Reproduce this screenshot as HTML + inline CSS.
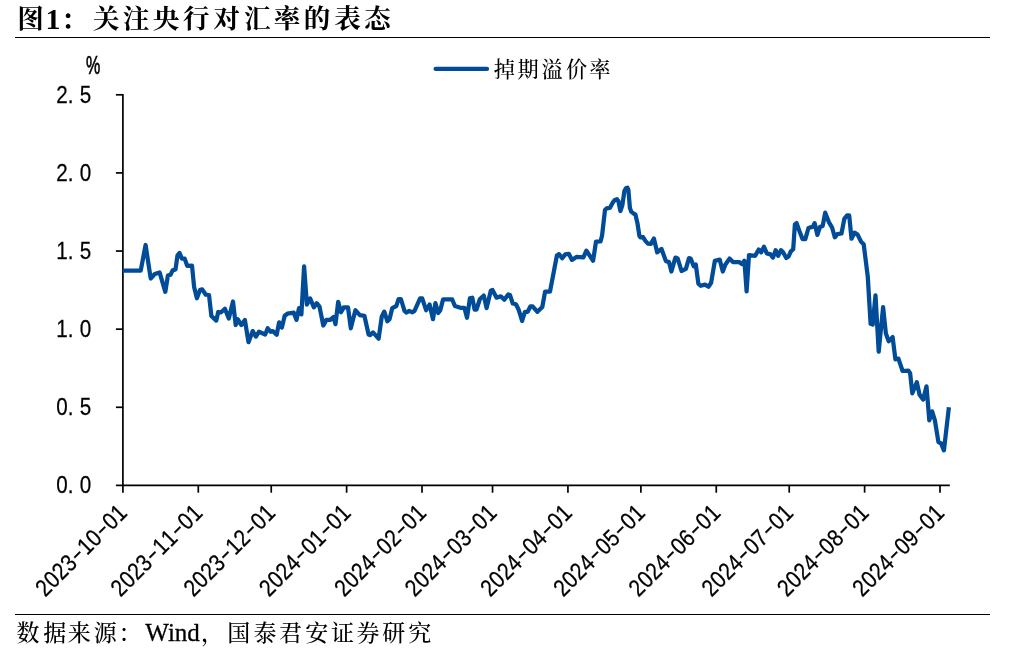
<!DOCTYPE html>
<html lang="zh-CN">
<head>
<meta charset="utf-8">
<title>图1：关注央行对汇率的表态</title>
<style>
html,body{margin:0;padding:0;background:#fff;}
body{width:1010px;height:661px;overflow:hidden;position:relative;}
svg{position:absolute;left:0;top:0;display:block;}
.title{font-family:"Liberation Serif","Noto Serif CJK SC",serif;font-weight:bold;font-size:26.6px;fill:#000;}
.title .t1{font-size:30px;}
.src{font-family:"Liberation Serif","Noto Serif CJK SC",serif;font-size:23.0px;font-weight:500;fill:#000;}
.src .lat{font-size:25px;font-weight:400;stroke:#000;stroke-width:0.3;}
.leg{font-family:"Liberation Serif","Noto Serif CJK SC",serif;font-size:21.2px;font-weight:500;fill:#000;}
.num{font-family:"Liberation Sans","Noto Sans CJK SC",sans-serif;font-size:24.0px;fill:#000;stroke:#000;stroke-width:0.25;}
.pct{font-size:25.8px;stroke-width:0.7;}
.hy{font-family:"IPAGothic","Liberation Sans",sans-serif;font-size:23.6px;}
.series.data{stroke-linecap:butt;}
.ax{stroke:#000;stroke-width:1.7;fill:none;}
.rule{stroke:#000;stroke-width:1;}
.series{fill:none;stroke:#004c99;stroke-width:4.25;stroke-linejoin:round;stroke-linecap:round;}
</style>
</head>
<body>
<svg width="1010" height="661" viewBox="0 0 1010 661">
<rect x="0" y="0" width="1010" height="661" fill="#ffffff"/>
<text class="title" y="27.6"><tspan x="17.3">图</tspan><tspan class="t1" x="45.4" dy="1.4">1</tspan><tspan x="61.0">：</tspan><tspan x="93.1 122.8 152.8 183.0 213.3 243.9 273.7 303.7 334.2 364.2" dy="-1.4">关注央行对汇率的表态</tspan></text>
<line class="rule" x1="15" y1="37.5" x2="990" y2="37.5"/>
<line class="rule" x1="15" y1="614.5" x2="990" y2="614.5"/>
<text class="src" y="640.5"><tspan x="16.4 43.2 67.7 93.8 118.5">数据来源：</tspan><tspan class="lat" x="145.3">Wind</tspan><tspan x="201.0 227.3 253.5 279.1 305.3 330.9 356.5 382.2 408.3">，国泰君安证券研究</tspan></text>
<line class="series" x1="435.6" y1="68.9" x2="487" y2="68.9"/>
<text class="leg" x="493.7 517.6 541.5 566.0 589.3" y="77.2">掉期溢价率</text>
<text class="num pct" transform="translate(86.0 73.9) scale(0.62 1)" x="0" y="0">%</text>
<path class="ax" d="M122.9 93.95V486.25"/>
<path class="ax" d="M122.05000000000001 485.4H949.8"/>
<path class="ax" d="M115.9 485.40H122.9"/>
<text class="num" transform="translate(56.0 493.10) scale(0.86 1)" x="0.19 13.72 27.63" y="0">0.0</text>
<path class="ax" d="M115.9 407.28H122.9"/>
<text class="num" transform="translate(56.0 414.98) scale(0.86 1)" x="0.19 13.72 27.63" y="0">0.5</text>
<path class="ax" d="M115.9 329.16H122.9"/>
<text class="num" transform="translate(56.0 336.86) scale(0.86 1)" x="0.19 13.72 27.63" y="0">1.0</text>
<path class="ax" d="M115.9 251.04H122.9"/>
<text class="num" transform="translate(56.0 258.74) scale(0.86 1)" x="0.19 13.72 27.63" y="0">1.5</text>
<path class="ax" d="M115.9 172.92H122.9"/>
<text class="num" transform="translate(56.0 180.62) scale(0.86 1)" x="0.19 13.72 27.63" y="0">2.0</text>
<path class="ax" d="M115.9 94.80H122.9"/>
<text class="num" transform="translate(56.0 102.50) scale(0.86 1)" x="0.19 13.72 27.63" y="0">2.5</text>
<path class="ax" d="M122.90 485.4V492.7"/>
<text class="num" transform="translate(128.50 514.4) rotate(-45) scale(0.86 1)" y="0"><tspan x="-137.02 -123.30 -109.58 -95.86">2023</tspan><tspan class="hy" x="-81.37" dy="1.2">-</tspan><tspan x="-68.42 -54.70" dy="-1.2">10</tspan><tspan class="hy" x="-40.20" dy="1.2">-</tspan><tspan x="-27.25 -13.53" dy="-1.2">01</tspan></text>
<path class="ax" d="M198.29 485.4V492.7"/>
<text class="num" transform="translate(203.89 514.4) rotate(-45) scale(0.86 1)" y="0"><tspan x="-137.02 -123.30 -109.58 -95.86">2023</tspan><tspan class="hy" x="-81.37" dy="1.2">-</tspan><tspan x="-68.42 -54.70" dy="-1.2">11</tspan><tspan class="hy" x="-40.20" dy="1.2">-</tspan><tspan x="-27.25 -13.53" dy="-1.2">01</tspan></text>
<path class="ax" d="M271.24 485.4V492.7"/>
<text class="num" transform="translate(276.84 514.4) rotate(-45) scale(0.86 1)" y="0"><tspan x="-137.02 -123.30 -109.58 -95.86">2023</tspan><tspan class="hy" x="-81.37" dy="1.2">-</tspan><tspan x="-68.42 -54.70" dy="-1.2">12</tspan><tspan class="hy" x="-40.20" dy="1.2">-</tspan><tspan x="-27.25 -13.53" dy="-1.2">01</tspan></text>
<path class="ax" d="M346.63 485.4V492.7"/>
<text class="num" transform="translate(352.23 514.4) rotate(-45) scale(0.86 1)" y="0"><tspan x="-137.02 -123.30 -109.58 -95.86">2024</tspan><tspan class="hy" x="-81.37" dy="1.2">-</tspan><tspan x="-68.42 -54.70" dy="-1.2">01</tspan><tspan class="hy" x="-40.20" dy="1.2">-</tspan><tspan x="-27.25 -13.53" dy="-1.2">01</tspan></text>
<path class="ax" d="M422.02 485.4V492.7"/>
<text class="num" transform="translate(427.62 514.4) rotate(-45) scale(0.86 1)" y="0"><tspan x="-137.02 -123.30 -109.58 -95.86">2024</tspan><tspan class="hy" x="-81.37" dy="1.2">-</tspan><tspan x="-68.42 -54.70" dy="-1.2">02</tspan><tspan class="hy" x="-40.20" dy="1.2">-</tspan><tspan x="-27.25 -13.53" dy="-1.2">01</tspan></text>
<path class="ax" d="M492.54 485.4V492.7"/>
<text class="num" transform="translate(498.14 514.4) rotate(-45) scale(0.86 1)" y="0"><tspan x="-137.02 -123.30 -109.58 -95.86">2024</tspan><tspan class="hy" x="-81.37" dy="1.2">-</tspan><tspan x="-68.42 -54.70" dy="-1.2">03</tspan><tspan class="hy" x="-40.20" dy="1.2">-</tspan><tspan x="-27.25 -13.53" dy="-1.2">01</tspan></text>
<path class="ax" d="M567.93 485.4V492.7"/>
<text class="num" transform="translate(573.53 514.4) rotate(-45) scale(0.86 1)" y="0"><tspan x="-137.02 -123.30 -109.58 -95.86">2024</tspan><tspan class="hy" x="-81.37" dy="1.2">-</tspan><tspan x="-68.42 -54.70" dy="-1.2">04</tspan><tspan class="hy" x="-40.20" dy="1.2">-</tspan><tspan x="-27.25 -13.53" dy="-1.2">01</tspan></text>
<path class="ax" d="M640.88 485.4V492.7"/>
<text class="num" transform="translate(646.48 514.4) rotate(-45) scale(0.86 1)" y="0"><tspan x="-137.02 -123.30 -109.58 -95.86">2024</tspan><tspan class="hy" x="-81.37" dy="1.2">-</tspan><tspan x="-68.42 -54.70" dy="-1.2">05</tspan><tspan class="hy" x="-40.20" dy="1.2">-</tspan><tspan x="-27.25 -13.53" dy="-1.2">01</tspan></text>
<path class="ax" d="M716.27 485.4V492.7"/>
<text class="num" transform="translate(721.87 514.4) rotate(-45) scale(0.86 1)" y="0"><tspan x="-137.02 -123.30 -109.58 -95.86">2024</tspan><tspan class="hy" x="-81.37" dy="1.2">-</tspan><tspan x="-68.42 -54.70" dy="-1.2">06</tspan><tspan class="hy" x="-40.20" dy="1.2">-</tspan><tspan x="-27.25 -13.53" dy="-1.2">01</tspan></text>
<path class="ax" d="M789.23 485.4V492.7"/>
<text class="num" transform="translate(794.83 514.4) rotate(-45) scale(0.86 1)" y="0"><tspan x="-137.02 -123.30 -109.58 -95.86">2024</tspan><tspan class="hy" x="-81.37" dy="1.2">-</tspan><tspan x="-68.42 -54.70" dy="-1.2">07</tspan><tspan class="hy" x="-40.20" dy="1.2">-</tspan><tspan x="-27.25 -13.53" dy="-1.2">01</tspan></text>
<path class="ax" d="M864.61 485.4V492.7"/>
<text class="num" transform="translate(870.21 514.4) rotate(-45) scale(0.86 1)" y="0"><tspan x="-137.02 -123.30 -109.58 -95.86">2024</tspan><tspan class="hy" x="-81.37" dy="1.2">-</tspan><tspan x="-68.42 -54.70" dy="-1.2">08</tspan><tspan class="hy" x="-40.20" dy="1.2">-</tspan><tspan x="-27.25 -13.53" dy="-1.2">01</tspan></text>
<path class="ax" d="M940.00 485.4V492.7"/>
<text class="num" transform="translate(945.60 514.4) rotate(-45) scale(0.86 1)" y="0"><tspan x="-137.02 -123.30 -109.58 -95.86">2024</tspan><tspan class="hy" x="-81.37" dy="1.2">-</tspan><tspan x="-68.42 -54.70" dy="-1.2">09</tspan><tspan class="hy" x="-40.20" dy="1.2">-</tspan><tspan x="-27.25 -13.53" dy="-1.2">01</tspan></text>
<polyline class="series data" points="122.6,270.7 140.7,270.7 145.6,245 150.7,278.5 154.8,274 159.6,272.4 165.3,291.8 167.9,275.6 170.5,274.8 172.6,270.4 175.5,269.5 177.5,255.4 179.6,252.9 181.8,258.6 184.7,258.6 187.2,265.9 192,265.6 194.1,286.9 196.9,298.3 200.1,289.8 202.2,289.4 205.8,294.7 209,295 211.4,316 216.3,320.6 218.2,312 221.1,312.3 224.9,308.8 228.8,318.5 233,301.5 235.7,325 237.8,319.3 241.4,325 244.9,320.1 248.5,342.2 252.7,331.1 255.9,336.6 258.9,331.8 265.2,334.5 267.7,328.3 270.7,331.8 272.8,331.1 276.7,334.8 279.1,322.3 281.9,327.6 284.7,315.8 287.4,313.7 293.7,312.6 296.5,319.9 299,308.1 301.4,314.4 304.1,266.3 306.9,304.6 310.1,298.4 313.9,307.4 316.7,303.2 319.5,306.7 323.3,325.5 326.4,319.9 330.2,319.9 333.4,317.1 335.5,324.1 338.2,301.8 341,312.3 343.8,307.4 348,307.4 350.8,328.3 355.4,310.2 359.8,315.1 364.4,315.8 368.6,334.5 370,335.2 373,332.4 378.6,338.7 381.8,316.4 384.3,311.6 387.4,321.3 389.5,319.2 392.3,308.1 396.4,306 398.5,299 400.9,299 404.5,310.9 406.5,312.6 409,310.9 412.4,312.3 414.5,310.9 420.1,298.4 422.2,298.4 426.1,310.2 429.6,304.6 433,319.2 435.4,303.2 438.2,313 440.3,310.2 443.1,299.3 452.1,299.3 454.9,306 460.5,307.8 464.4,307.8 467,317.8 469.9,298.4 472.3,297.7 474.6,309.5 476.5,309.5 479.9,299 483.8,295.6 486.6,308.1 490.8,290.7 492.5,290 496.6,297.7 500.8,296.3 504.3,299.7 508.2,294.4 510,295.1 512.8,303.5 515.9,304.2 518.7,309.8 522.1,320.9 524.9,311.8 527.7,311.8 530.5,306.3 532.6,306.3 537.4,311.8 542.3,307 545.1,291.7 550,291.7 556.9,255.5 559,254.1 562.2,258.3 565.3,254.4 568.8,253.8 572,259.9 576.4,256.9 583.4,257.3 586.4,250.6 593.1,260.8 596,241.6 600.5,241.4 602,235.9 603.5,222.9 605,209.9 606.5,208.4 610,207.9 612.5,203 614.5,200.2 616.9,199.2 618.4,201 620.4,211 622.4,205 624.4,191 625.9,188.2 627.4,187.6 628.4,190 629.9,207.9 631.4,211.9 633.4,213.4 635.4,214.6 637.4,222.9 639.4,235.9 640.4,237.4 642.9,237 645.4,240.9 647.9,243.6 650.9,243.9 653.9,238.5 657.2,252.4 661.5,248.9 665.9,261.1 669,262 671.4,271.5 675.4,257.6 677.7,258.5 681.5,271 685.9,268.9 689,258.1 690.7,258.5 693.7,266.3 695.8,264.6 698.4,283.7 700.7,285.8 705,284.6 708.5,286.7 711.1,282.8 714.9,260.7 719.7,259.6 722.8,271.5 725.3,264.8 729.5,258.6 733,262.1 739.2,262.1 742.3,264.1 744.4,260.7 746.6,291.3 749,255.1 755.2,255.8 758.7,249.5 761.2,252.3 764,246.7 766.8,253.4 770.5,254.4 773,257.6 775.7,250.2 778.2,255.8 781,250.2 783.1,252.3 786.3,257.9 788.6,256.5 790.7,251.6 793.2,249.3 794.9,224.5 796.6,223.1 799.3,230.7 802.5,239.1 805.3,239.1 808.5,228 813,226.6 814.6,223.1 817.4,234.9 819.9,227 822.7,225.9 825.2,212.7 829,222.4 832,227.3 834.8,237.3 837.3,234.2 841.5,233.5 844.3,218.9 847.1,215.4 849.2,215.4 851.5,238.7 854.5,232.6 857.6,234.6 861.1,241.8 863.7,244.2 867.8,277 870.6,323.8 872.7,324.5 875.5,295.3 878.7,351.7 883.1,307.1 885.9,333.6 888.7,341.2 892.6,337.1 895.4,359.3 898.4,358.6 902.6,371 908.4,370.6 910.1,373.1 912.3,393.3 916.8,382.2 919.6,394.7 923.1,399.6 926.5,386.4 929.3,420.4 932.1,411.4 934.9,420.4 938.4,442 941.1,443.4 943.9,450.4 948.9,407.3"/>
</svg>
</body>
</html>
